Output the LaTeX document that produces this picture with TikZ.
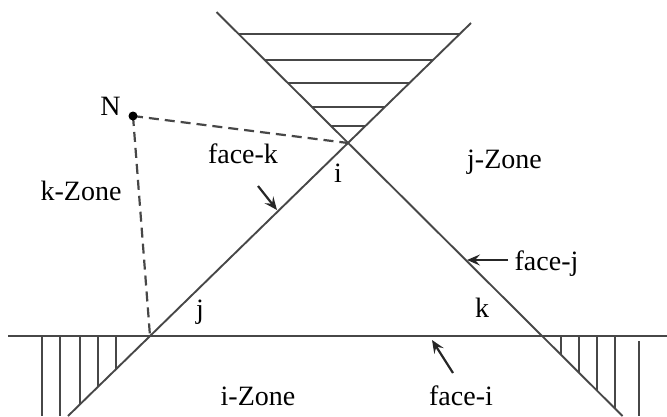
\documentclass[tikz,border=0pt]{standalone}
\usepackage{fontspec}
\setmainfont{Liberation Serif}
\usetikzlibrary{arrows.meta}
\tikzset{
  ln/.style={draw=black!72, line width=1.9pt},
  hatch/.style={draw=black!72, line width=1.8pt},
  dsh/.style={draw=black!72, line width=2.2pt, dash pattern=on 10pt off 6pt},
  lbl/.style={font=\fontsize{28}{32}\selectfont, inner sep=0pt, anchor=base},
  arr/.style={draw=black!85, line width=2.2pt, -{Stealth[length=13pt,width=11pt,inset=5pt]}}
}
\begin{document}
\begin{tikzpicture}[x=1pt,y=-1pt]
\useasboundingbox (0,0) rectangle (667,416);
% key points
\coordinate (i) at (348,143);
\coordinate (j) at (150,336);
\coordinate (k) at (542,336);
\coordinate (rt) at (216.5,12);
\coordinate (rb) at (622.5,416);
\coordinate (lt) at (471,23);
\coordinate (lb) at (68,416);
\coordinate (hl) at (8,336);
\coordinate (hr) at (667,336);
\coordinate (N) at (133,116);
% main lines
\draw[ln] (hl) -- (hr);
\draw[ln] (rt) -- (rb);
\draw[ln] (lt) -- (lb);
% top cone hatching
\draw[hatch] (238.4,34) -- (459.8,34);
\draw[hatch] (264.6,60) -- (433.2,60);
\draw[hatch] (287.7,83) -- (409.6,83);
\draw[hatch] (311.8,107) -- (384.9,107);
\draw[hatch] (330.9,126) -- (365.4,126);
% bottom left hatching
\draw[hatch] (42,336) -- (42,416);
\draw[hatch] (60,336) -- (60,416);
\draw[hatch] (80,336) -- (80,404);
\draw[hatch] (98,336) -- (98,386.7);
\draw[hatch] (116,336) -- (116,369);
% bottom right hatching
\draw[hatch] (561,336) -- (561,354.9);
\draw[hatch] (579,336) -- (579,372.8);
\draw[hatch] (597,336) -- (597,390.7);
\draw[hatch] (615,336) -- (615,408.6);
\draw[hatch] (639,341) -- (639,416);
% dashed lines from N
\draw[dsh] (N) -- (i);
\draw[dsh] (N) -- (j);
\fill[black] (N) circle (4.5pt);
% labels
\node[lbl] (labN) at (110.5,115) {N};
\node[lbl] (labfk) at (243,163) {face-k};
\node[lbl] (labkz) at (81,200) {k-Zone};
\node[lbl] (labi) at (338,182) {i};
\node[lbl] (labjz) at (504.5,168) {j-Zone};
\node[lbl] (labfj) at (546.5,270) {face-j};
\node[lbl] (labj) at (200,318) {j};
\node[lbl] (labk) at (482,317) {k};
\node[lbl] (labiz) at (258,405) {i-Zone};
\node[lbl] (labfi) at (461,405) {face-i};
% arrows
\coordinate (fkt) at (258,186);
\coordinate (fkh) at (277,210);
\coordinate (fjt) at (508,260);
\coordinate (fjh) at (467,260);
\coordinate (fit) at (453,373);
\coordinate (fih) at (432,340);
\draw[arr] (fkt) -- (fkh);
\draw[arr] (fjt) -- (fjh);
\draw[arr] (fit) -- (fih);
\end{tikzpicture}
\end{document}
